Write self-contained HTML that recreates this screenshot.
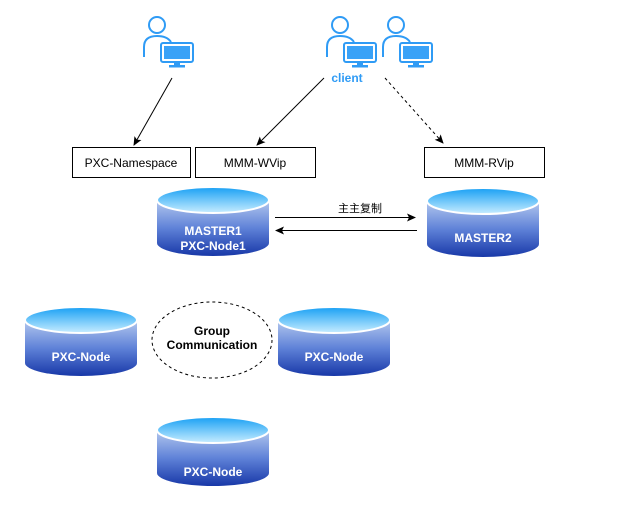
<!DOCTYPE html>
<html><head><meta charset="utf-8"><style>
html,body{margin:0;padding:0;background:#fff;}
svg{display:block;}
text{font-family:"Liberation Sans","Noto Sans CJK SC",sans-serif;}
</style></head><body>
<svg width="632" height="507" viewBox="0 0 632 507" xmlns="http://www.w3.org/2000/svg">
<defs>
<linearGradient id="gt" x1="0" y1="0" x2="0" y2="1"><stop offset="0" stop-color="#18a0f4"/><stop offset="1" stop-color="#c8edff"/></linearGradient>
<linearGradient id="gb" x1="0" y1="0" x2="0" y2="1"><stop offset="0" stop-color="#b4c8ee"/><stop offset="0.5" stop-color="#5f82d8"/><stop offset="1" stop-color="#1838a8"/></linearGradient>
<g id="cyl">
<path d="M0,13 L0,56 A56,13 0 0 0 112,56 L112,13 Z" fill="url(#gb)"/>
<ellipse cx="56" cy="13" rx="56" ry="13" fill="url(#gt)" stroke="#fff" stroke-width="2"/>
</g>
<g id="user">
<circle cx="14" cy="10" r="8" fill="#fff" stroke="#2f9bf5" stroke-width="2"/>
<path d="M1,42 L1,32 Q1,21 14,21 Q24,21 28,27" fill="#fff" stroke="#2f9bf5" stroke-width="2"/>
<rect x="18" y="28" width="32" height="19" rx="2" fill="#fff" stroke="#2f9bf5" stroke-width="2"/>
<rect x="21" y="31" width="26" height="13" fill="#3aa2f7"/>
<rect x="31" y="47" width="6" height="4" fill="#2f9bf5"/>
<rect x="26" y="50" width="16" height="2.5" fill="#2f9bf5"/>
</g>
<marker id="ar" markerWidth="10" markerHeight="10" refX="8" refY="5" orient="auto" markerUnits="userSpaceOnUse"><path d="M0,1 L9,5 L0,9 L2,5 Z" fill="#000"/></marker>
</defs>

<use href="#user" x="143" y="15"/>
<use href="#user" x="326" y="15"/>
<use href="#user" x="382" y="15"/>
<text x="347" y="82" font-size="12" font-weight="bold" fill="#2f9bf5" text-anchor="middle">client</text>

<line x1="172" y1="78" x2="134" y2="145" stroke="#000" marker-end="url(#ar)"/>
<line x1="324" y1="78" x2="257" y2="145" stroke="#000" marker-end="url(#ar)"/>
<line x1="385" y1="78" x2="443" y2="143" stroke="#000" stroke-dasharray="3,3" marker-end="url(#ar)"/>

<rect x="72.5" y="147.5" width="118" height="30" fill="#fff" stroke="#000"/>
<text x="131" y="167" font-size="12" text-anchor="middle">PXC-Namespace</text>
<rect x="195.5" y="147.5" width="120" height="30" fill="#fff" stroke="#000"/>
<text x="255" y="167" font-size="12" text-anchor="middle">MMM-WVip</text>
<rect x="424.5" y="147.5" width="120" height="30" fill="#fff" stroke="#000"/>
<text x="484" y="167" font-size="12" text-anchor="middle">MMM-RVip</text>

<use href="#cyl" x="157" y="187"/>
<text x="213" y="235" font-size="12" font-weight="bold" fill="#fff" text-anchor="middle">MASTER1</text>
<text x="213" y="250" font-size="12" font-weight="bold" fill="#fff" text-anchor="middle">PXC-Node1</text>
<use href="#cyl" x="427" y="188"/>
<text x="483" y="242" font-size="12" font-weight="bold" fill="#fff" text-anchor="middle">MASTER2</text>

<line x1="275" y1="217.5" x2="415" y2="217.5" stroke="#000" marker-end="url(#ar)"/>
<line x1="417" y1="230.5" x2="276" y2="230.5" stroke="#000" marker-end="url(#ar)"/>
<text x="360" y="212" font-size="11" text-anchor="middle">主主复制</text>

<use href="#cyl" x="25" y="307"/>
<text x="81" y="361" font-size="12" font-weight="bold" fill="#fff" text-anchor="middle">PXC-Node</text>
<use href="#cyl" x="278" y="307"/>
<text x="334" y="361" font-size="12" font-weight="bold" fill="#fff" text-anchor="middle">PXC-Node</text>
<use href="#cyl" x="157" y="417"/>
<text x="213" y="476" font-size="12" font-weight="bold" fill="#fff" text-anchor="middle">PXC-Node</text>

<ellipse cx="212" cy="340" rx="60" ry="38" fill="#fff" stroke="#000" stroke-dasharray="3,3"/>
<text x="212" y="335" font-size="12" font-weight="bold" text-anchor="middle">Group</text>
<text x="212" y="349" font-size="12" font-weight="bold" text-anchor="middle">Communication</text>
</svg>
</body></html>
